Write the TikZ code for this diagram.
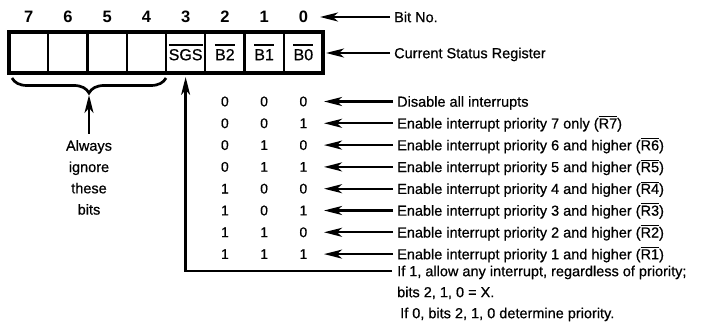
\documentclass[tikz,border=0pt]{standalone}
\usepackage{fontspec}
\setmainfont{Liberation Sans}
\newfontfamily\medfont{Liberation Sans}[FakeBold=0.6]
\usetikzlibrary{arrows.meta,decorations.pathreplacing}
\newcommand\ovthin[1]{\setbox0\hbox{#1}\rlap{\raise\dimexpr\ht0+1.2pt\relax\hbox{\vrule width\wd0 height 0.9pt depth 0pt}}\box0}
\begin{document}
\begin{tikzpicture}[x=1pt,y=-1pt,
  cell/.style={draw,line width=2.4pt,minimum width=39.25pt,minimum height=41pt,inner sep=0pt,outer sep=0pt},
  reglab/.style={font=\medfont\fontsize{16}{16}\selectfont,inner sep=0pt,text height=11.5pt,text depth=0pt},
  bitnum/.style={font=\bfseries\fontsize{16.5}{16.5}\selectfont,inner sep=0pt},
  val/.style={font=\medfont\fontsize{14}{14}\selectfont,inner sep=0pt},
  desc/.style={font=\medfont\fontsize{14.5}{14.5}\selectfont,anchor=west,inner sep=0pt,text height=10.4pt,text depth=0pt},
  arr/.style={line width=2.3pt,-{Stealth[length=18pt,width=9pt,inset=5pt]}},
  bracestyle/.style={line width=2.7pt,decorate,decoration={brace,mirror,amplitude=15pt}},
  ovl/.style={line width=1.7pt},
  ]
\useasboundingbox (0,0) rectangle (709,323);
% register cells
\foreach \k in {7,...,0}{
  \node[cell] (c\k) at ({9+39.25*(7-\k)+19.625},52.5) {};
  \node[bitnum] (n\k) at ({9+39.25*(7-\k)+19.625},17) {\k};
}
\foreach \k/\lab in {3/SGS,2/B2,1/B1,0/B0}{
  \node[reglab] (l\k) at ([yshift=-2pt]c\k.center) {\lab};
  \draw[ovl] ([yshift=3.2pt]l\k.north west) -- ([yshift=3.2pt]l\k.north east);
}
\draw[line width=3.2pt] (c7.north west) rectangle (c0.south east);
% bit number label
\node[desc] (bitno) at (394,17) {Bit No.};
\coordinate (tbit) at (320,17);
\draw[arr,shorten <=4pt] (bitno.west) -- (tbit);
\node[desc] (csr) at (394,53) {Current Status Register};
\coordinate (tcsr) at (326,53);
\draw[arr,shorten <=4pt] (csr.west) -- (tcsr);
% table rows
\foreach \i/\a/\b/\c/\t in {
  0/0/0/0/{Disable all interrupts},
  1/0/0/1/{Enable interrupt priority 7 only (\ovthin{R7})},
  2/0/1/0/{Enable interrupt priority 6 and higher (\ovthin{R6})},
  3/0/1/1/{Enable interrupt priority 5 and higher (\ovthin{R5})},
  4/1/0/0/{Enable interrupt priority 4 and higher (\ovthin{R4})},
  5/1/0/1/{Enable interrupt priority 3 and higher (\ovthin{R3})},
  6/1/1/0/{Enable interrupt priority 2 and higher (\ovthin{R2})},
  7/1/1/1/{Enable interrupt priority 1 and higher (\ovthin{R1})}}{
  \node[val] (va\i) at (c2 |- 0,{101.5+21.8*\i}) {\a};
  \node[val] (vb\i) at (c1 |- 0,{101.5+21.8*\i}) {\b};
  \node[val] (vc\i) at (c0 |- 0,{101.5+21.8*\i}) {\c};
  \node[desc] (d\i) at (397,{101.5+21.8*\i}) {\t};
  \coordinate (t\i) at (324,{101.5+21.8*\i});
  \draw[arr,shorten <=4pt] (d\i.west) -- (t\i);
}
% SGS explanation
\node[desc] (if1) at (397,271) {If 1, allow any interrupt, regardless of priority;};
\node[desc] (bx) at (397,292) {bits 2, 1, 0 = X.};
\node[desc] (if0) at (400,313) {If 0, bits 2, 1, 0 determine priority.};
\coordinate (tsgs) at ([yshift=-4pt]c3.south);
\draw[arr,shorten <=5pt] (if1.west) -- (if1.west -| c3.south) -- (tsgs);
% brace
\coordinate (bl) at (12,78);
\coordinate (br) at (166,78);
\draw[bracestyle] (bl) -- (br);
\node[font=\medfont\fontsize{14.5}{21.3}\selectfont,align=center,inner sep=0pt,anchor=north] (always) at (89,140) {Always\\ignore\\these\\bits};
\coordinate (btip) at (89,95);
\draw[arr] ([yshift=6pt]always.north) -- (btip);
\end{tikzpicture}
\end{document}
